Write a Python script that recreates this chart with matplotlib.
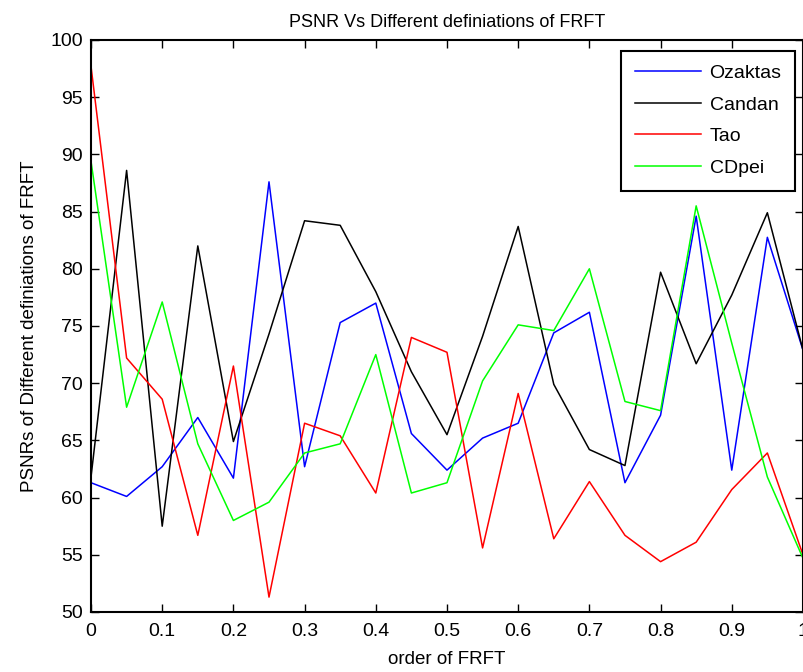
import numpy as np
import matplotlib
matplotlib.use("Agg")
import matplotlib.pyplot as plt

plt.rcParams['font.family'] = ['Liberation Sans', 'DejaVu Sans']

# fractional order values
order = np.round(np.arange(0, 1.0001, 0.05), 2)

# PSNR per definition
ozaktas = [61.3, 60.1, 62.7, 67.0, 61.7, 87.6, 62.7, 75.3, 77.0, 65.6, 62.4,
           65.2, 66.5, 74.4, 76.2, 61.3, 67.2, 84.6, 62.4, 82.75, 72.9]
candan = [61.8, 88.6, 57.5, 82.0, 64.9, 74.3, 84.2, 83.8, 78.0, 71.0, 65.5,
          74.1, 83.7, 69.9, 64.2, 62.8, 79.7, 71.7, 77.7, 84.9, 72.9]
tao = [97.7, 72.2, 68.6, 56.7, 71.5, 51.3, 66.5, 65.4, 60.4, 74.0, 72.7,
       55.6, 69.1, 56.4, 61.4, 56.7, 54.4, 56.1, 60.7, 63.9, 55.0]
cdpei = [89.4, 67.9, 77.1, 64.7, 58.0, 59.6, 63.9, 64.7, 72.5, 60.4, 61.3,
         70.2, 75.1, 74.6, 80.0, 68.4, 67.6, 85.5, 73.5, 61.8, 54.7]

fig = plt.figure(figsize=(8.04, 6.72), dpi=100)
ax = fig.add_axes([0.1132, 0.0893, 0.8855, 0.8512])

ax.plot(order, ozaktas, color='#0000ff', lw=1.1, label='Ozaktas')
ax.plot(order, candan, color='#000000', lw=1.1, label='Candan')
ax.plot(order, tao, color='#ff0000', lw=1.1, label='Tao')
ax.plot(order, cdpei, color='#00ff00', lw=1.1, label='CDpei')

ax.set_xlim(0, 1)
ax.set_ylim(50, 100)
ax.set_xticks(np.arange(0, 1.01, 0.1))
ax.set_xticklabels(['0', '0.1', '0.2', '0.3', '0.4', '0.5', '0.6', '0.7', '0.8', '0.9', '1'])
ax.set_yticks(np.arange(50, 101, 5))
ax.tick_params(direction='in', top=True, right=True, length=6, width=1,
               labelsize=14)
ax.tick_params(axis='x', pad=8)
ax.tick_params(axis='y', pad=6)
for s in ax.spines.values():
    s.set_linewidth(1.5)

ax.set_title('PSNR Vs Different definiations of FRFT', fontsize=13, pad=9)
ax.set_xlabel('order of FRFT', fontsize=13.5, labelpad=8)
ax.set_ylabel('PSNRs of Different definiations of FRFT', fontsize=13.5, labelpad=9)

leg = ax.legend(loc='upper right', bbox_to_anchor=(0.989, 0.981), fontsize=14,
                fancybox=False, framealpha=1, edgecolor='black', borderaxespad=0,
                handlelength=3.4, labelspacing=0.72, borderpad=0.7,
                handletextpad=0.45)
leg.get_frame().set_linewidth(1.5)

fig.savefig('out.png', dpi=100)
